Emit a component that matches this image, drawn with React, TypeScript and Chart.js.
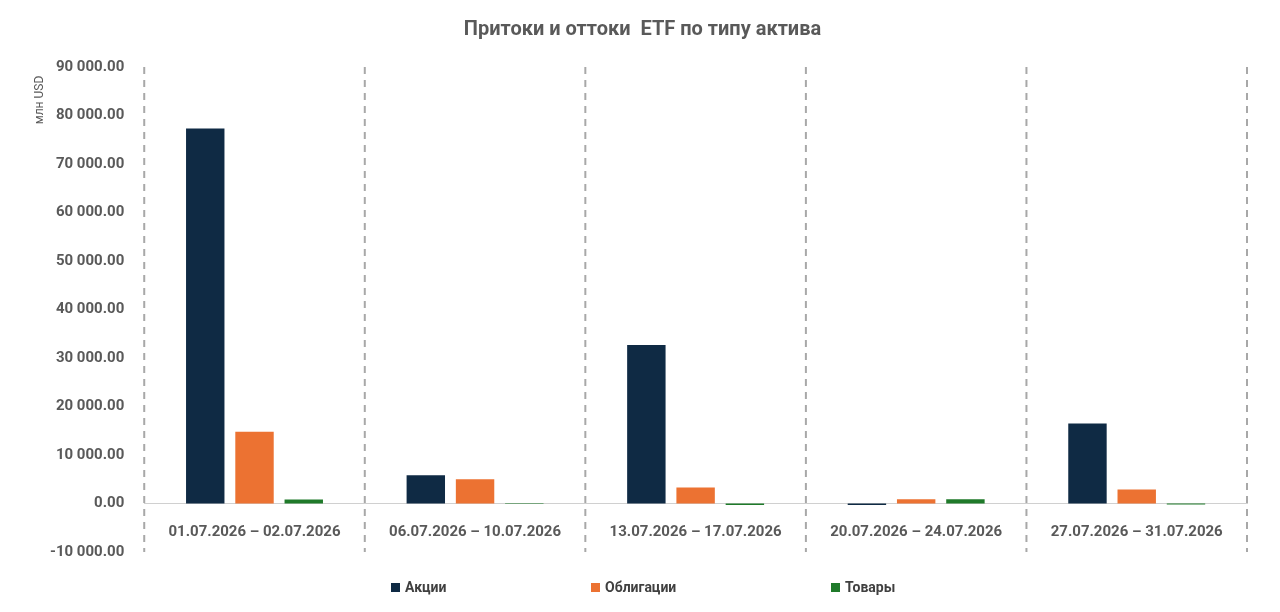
import React, { useEffect, useRef } from "react";
import { Chart, registerables } from "chart.js";
Chart.register(...registerables);

const categories = ["01.07.2026 – 02.07.2026", "06.07.2026 – 10.07.2026", "13.07.2026 – 17.07.2026", "20.07.2026 – 24.07.2026", "27.07.2026 – 31.07.2026"];
const seriesNames = ["Акции", "Облигации", "Товары"];
const seriesColors = ["#0f2a44", "#ec7232", "#1f7a2a"];
const stocks = [77300, 5800, 32700, -300, 16500];
const bonds = [14800, 5000, 3300, 900, 2900];
const commodities = [830, -100, -300, 900, -200];
const yTicks = [-10000, 0, 10000, 20000, 30000, 40000, 50000, 60000, 70000, 80000, 90000];

const fmt = (v: number) => {
  const s = Math.abs(v).toFixed(2);
  const [i, d] = s.split(".");
  const g = i.replace(/\B(?=(\d{3})+(?!\d))/g, " ");
  return (v < 0 ? "-" : "") + g + "." + d;
};

export default function App() {
  const ref = useRef<HTMLCanvasElement>(null);
  useEffect(() => {
    const font = "'Roboto', 'DejaVu Sans', sans-serif";
    const chart = new Chart(ref.current!, {
      type: "bar",
      data: {
        labels: categories,
        datasets: [
          { label: seriesNames[0], data: stocks, backgroundColor: seriesColors[0] },
          { label: seriesNames[1], data: bonds, backgroundColor: seriesColors[1] },
          { label: seriesNames[2], data: commodities, backgroundColor: seriesColors[2] },
        ],
      },
      options: {
        animation: false,
        responsive: true,
        maintainAspectRatio: false,
        datasets: { bar: { categoryPercentage: 0.67, barPercentage: 0.78 } },
        layout: { padding: { left: 30, right: 25, top: 0, bottom: 52 } },
        plugins: {
          title: { display: true, text: "Притоки и оттоки  ETF по типу актива", color: "#595959", font: { family: font, size: 20, weight: "bold" }, padding: { top: 10, bottom: 25 } },
          legend: { display: false },
          tooltip: { enabled: false },
        },
        scales: {
          x: {
            position: { y: 0 } as any,
            afterFit: (s: any) => { s.height = 0; },
            grid: { display: false },
            border: { display: true, color: "#d0d0d0", width: 1 },
            ticks: { color: "#595959", padding: 12, font: { family: font, size: 15, weight: "bold" }, maxRotation: 0, autoSkip: false },
          },
          y: {
            min: -10000,
            max: 90000,
            afterBuildTicks: (s: any) => { s.ticks = yTicks.map((v) => ({ value: v })); },
            grid: { display: false },
            border: { display: false },
            ticks: { color: "#595959", padding: 12, font: { family: font, size: 15, weight: "bold" }, callback: (v: any) => fmt(Number(v)) },
          },
        },
      },
      plugins: [{
        id: "extras",
        beforeDatasetsDraw(c: any) {
          const { ctx, chartArea } = c;
          const xs = c.scales.x;
          ctx.save();
          ctx.strokeStyle = "#a8a8a8";
          ctx.lineWidth = 2;
          ctx.setLineDash([7, 6]);
          const n = categories.length;
          for (let i = 0; i <= n; i++) {
            const x = i === 0 ? chartArea.left : i === n ? chartArea.right : (xs.getPixelForValue(i - 1) + xs.getPixelForValue(i)) / 2;
            ctx.beginPath();
            ctx.moveTo(x, chartArea.top);
            ctx.lineTo(x, chartArea.bottom);
            ctx.stroke();
          }
          ctx.restore();
        },
        afterDraw(c: any) {
          const { ctx } = c;
          ctx.save();
          ctx.fillStyle = "#595959";
          ctx.font = `12px ${font}`;
          ctx.translate(32, 92);
          ctx.rotate(-Math.PI / 2);
          ctx.textAlign = "center";
          ctx.textBaseline = "middle";
          ctx.fillText("млн USD", 0, 0);
          ctx.restore();
          ctx.save();
          const lx = [383, 583, 823];
          ctx.font = `bold 14px ${font}`;
          ctx.textBaseline = "middle";
          seriesNames.forEach((name, i) => {
            ctx.fillStyle = seriesColors[i];
            ctx.fillRect(lx[i], 575, 9, 9);
            ctx.fillStyle = "#404040";
            ctx.fillText(name, lx[i] + 14, 580);
          });
          ctx.restore();
        },
      }],
    } as any);
    return () => chart.destroy();
  }, []);
  return (
    <div style={{ width: 1264, height: 596 }}>
      <canvas ref={ref} />
    </div>
  );
}
